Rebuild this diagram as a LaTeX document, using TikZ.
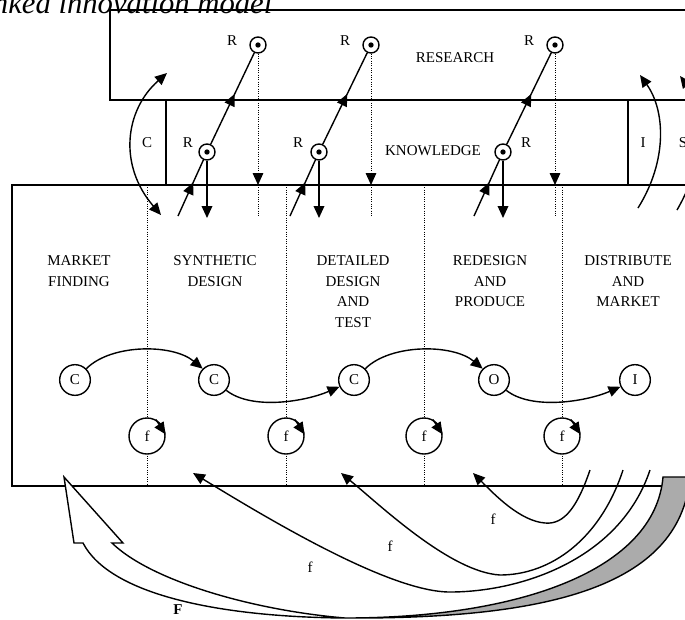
\documentclass[tikz,border=0pt]{standalone}
\usepackage{fontspec}
\setmainfont{Liberation Serif}
\usetikzlibrary{arrows.meta,decorations.markings}

\newcommand{\txt}{\fontsize{11.25}{15.5}\selectfont}

\tikzset{
  tip/.style={-{Triangle[length=9pt,width=8pt]}},
  tips/.style={{Triangle[length=9pt,width=8pt]}-{Triangle[length=9pt,width=8pt]}},
  midtip/.style={postaction={decorate},decoration={markings,
      mark=at position #1 with {\arrow{Triangle[length=9pt,width=8pt]}}}},
  stage/.style={align=center,anchor=north,inner sep=0pt,font=\txt},
  lbl/.style={inner sep=0pt,font=\txt},
  ring/.style={circle,draw,fill=white,minimum size=23pt,inner sep=0pt,font=\txt},
  fring/.style={ring,minimum size=27pt},
  rdot/.style={circle,draw,fill=white,minimum size=12pt,inner sep=0pt,
      path picture={\fill[black] (path picture bounding box.center) circle (2pt);}},
  divider/.style={densely dotted,line width=0.75pt},
}

\begin{document}
\begin{tikzpicture}[x=0.75pt,y=-0.75pt,line width=1.05pt]
\useasboundingbox (0,0) rectangle (685,619);
\clip (0,0) rectangle (685,619);

% title, cut at the top
\node[anchor=base east,inner sep=0pt,font=\itshape\fontsize{23}{23}\selectfont] (title) at (273,13) {Chain-linked innovation model};

% research and knowledge
\draw (700,10) -- (110,10) -- (110,100) -- (700,100);
\draw (166,100) -- (166,185) (628,100) -- (628,185);
\node[lbl] (research) at (455,58) {RESEARCH};
\node[lbl] (knowledge) at (433,151) {KNOWLEDGE};
\node[lbl] (clab) at (147,143) {C};
\node[lbl] (ilab) at (643,143) {I};
\node[lbl] (slab) at (683,143) {S};

% stages
\draw (700,185) -- (12,185) -- (12,486) -- (700,486);
\foreach \x in {147,286,424,562}
  \draw[divider] (\x,185) -- (\x,486);
\node[stage] (mf) at (79,255) {MARKET\\FINDING};
\node[stage] (sd) at (215,255) {SYNTHETIC\\DESIGN};
\node[stage] (dd) at (353,255) {DETAILED\\DESIGN\\AND\\TEST};
\node[stage] (rp) at (490,255) {REDESIGN\\AND\\PRODUCE};
\node[stage] (dm) at (628,255) {DISTRIBUTE\\AND\\MARKET};

% R links
\foreach \n/\k/\r/\s in {1/207/258/-19,2/319/371/-21,3/503/555/23}{
  \node[rdot] (r\n) at (\r,45) {};
  \node[rdot] (k\n) at (\k,152) {};
  \node[lbl] (rl\n) at ([shift={(-26,-4)}]r\n) {R};
  \node[lbl] (kl\n) at ([shift={(\s,-9)}]k\n) {R};
  \coordinate (s\n) at (\k-29,216);
  \coordinate (d\n) at (\k,218);
  \coordinate (e\n) at (\r,185);
  \coordinate (g\n) at (\r,216);
  \draw[midtip=0.6] (s\n) -- (k\n);
  \draw[midtip=0.55] (k\n) -- (r\n);
  \draw[tip] (k\n) -- (d\n);
  \draw[divider,tip] (r\n) -- (e\n);
  \draw[divider] (e\n) -- (g\n);
}

% C, I, S
\coordinate (ca) at (161,215);
\coordinate (cb) at (167,73);
\draw[tips] (ca) .. controls (118,165) and (125,110) .. (cb);
\coordinate (ia) at (638,208);
\coordinate (ib) at (640,75);
\draw[tip] (ia) .. controls (668,160) and (665,110) .. (ib);
\coordinate (sa) at (677,210);
\coordinate (sb) at (680,76);
\draw[tip] (sa) .. controls (706,160) and (706,110) .. (sb);

% central chain
\node[ring] (c1) at (75,380) {C};
\node[ring] (c2) at (214,380) {C};
\node[ring] (c3) at (354,380) {C};
\node[ring] (o1) at (494,380) {O};
\node[ring] (i1) at (635,380) {I};
\draw[tip] (c1.45) .. controls +(25,-25) and +(-30,-25) .. (c2.135);
\draw[tip] (c2.-40) .. controls +(25,20) and +(-35,15) .. (c3.-155);
\draw[tip] (c3.45) .. controls +(25,-25) and +(-30,-25) .. (o1.135);
\draw[tip] (o1.-40) .. controls +(25,20) and +(-35,15) .. (i1.-155);

% feedback loops
\foreach \n/\x in {1/147,2/286,3/424,4/562}{
  \node[fring] (f\n) at (\x,436) {f};
  \draw[tip] (f\n.62) -- (f\n.5);
}
\coordinate (fa) at (590,470);
\coordinate (fb) at (623,470);
\coordinate (fc) at (650,470);
\coordinate (ta) at (473,473);
\coordinate (tb) at (341,473);
\coordinate (tc) at (193,473);
\draw[tip] (fa) .. controls (578,505) and (565,525) .. (545,523) .. controls (520,521) and (495,495) .. (ta);
\draw[tip] (fb) .. controls (600,540) and (550,575) .. (500,575) .. controls (450,572) and (380,505) .. (tb);
\draw[tip] (fc) .. controls (620,560) and (520,592) .. (450,592) .. controls (390,592) and (270,520) .. (tc);
\node[lbl] (fl1) at (493,519) {f};
\node[lbl] (fl2) at (390,546) {f};
\node[lbl] (fl3) at (310,567) {f};

% big F
\draw[fill=black!33] (663,477) .. controls (655,570) and (520,618) .. (345,618)
  .. controls (540,619) and (680,590) .. (690,477) -- cycle;
\draw[fill=white] (64,477) -- (74,543) -- (83,543) .. controls (110,595) and (220,617) .. (345,618)
  .. controls (250,610) and (150,580) .. (112,543) -- (123,543) -- cycle;
\node[lbl,font=\bfseries\txt] (bigf) at (178,610) {F};
\end{tikzpicture}
\end{document}
